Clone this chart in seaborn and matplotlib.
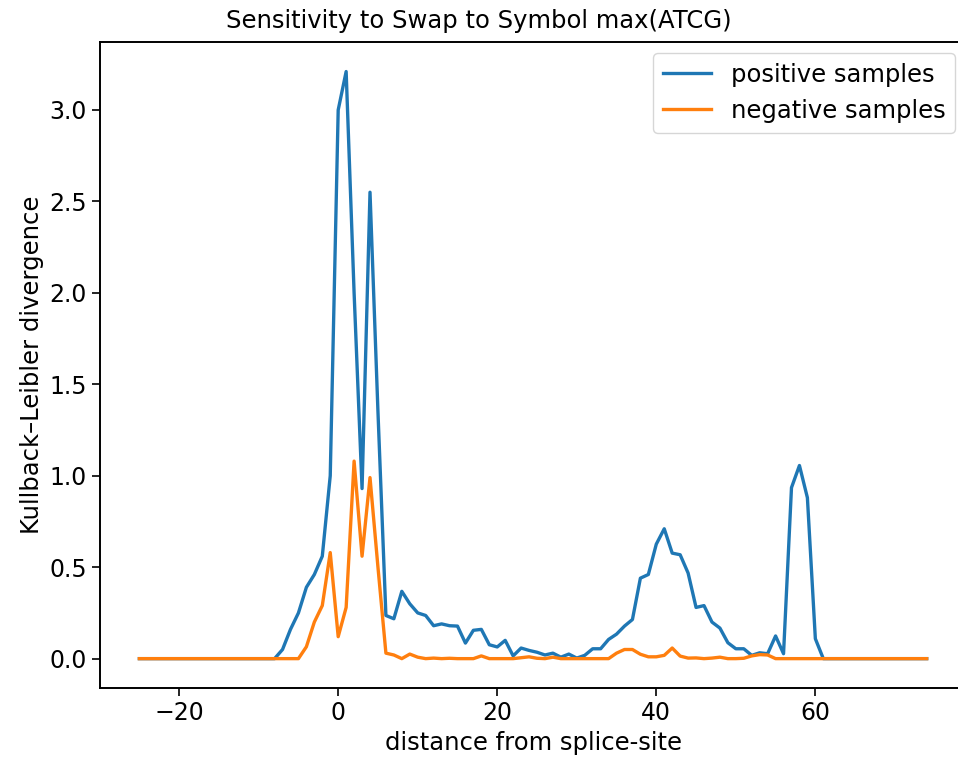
import numpy as np
import pandas as pd
import matplotlib
matplotlib.use("Agg")
import matplotlib.pyplot as plt
import seaborn as sns

# distance from splice-site (one value per position)
distance = list(range(-25, 75))

# KL divergence, positive samples
positive = [
    0.0, 0.0, 0.0, 0.0, 0.0, 0.0, 0.0, 0.0, 0.0, 0.0,
    0.0, 0.0, 0.0, 0.0, 0.0, 0.0, 0.0,
    0.0, 0.05, 0.16, 0.25, 0.39, 0.46, 0.56, 1.0,
    3.0, 3.21, 2.0, 0.93, 2.55, 1.35, 0.236, 0.218, 0.368, 0.30,
    0.25, 0.236, 0.18, 0.19, 0.18, 0.178, 0.085, 0.155, 0.16, 0.076,
    0.064, 0.10, 0.015, 0.058, 0.045, 0.035, 0.02, 0.03, 0.008, 0.025,
    0.003, 0.018, 0.054, 0.054, 0.105, 0.134, 0.178, 0.214, 0.44, 0.46,
    0.626, 0.71, 0.577, 0.568, 0.468, 0.28, 0.29, 0.20, 0.167, 0.087,
    0.054, 0.054, 0.018, 0.032, 0.027, 0.124, 0.027, 0.935, 1.056, 0.88,
    0.109, 0.0,
    0.0, 0.0, 0.0, 0.0, 0.0, 0.0, 0.0, 0.0, 0.0, 0.0, 0.0, 0.0, 0.0,
]

# KL divergence, negative samples
negative = [
    0.0, 0.0, 0.0, 0.0, 0.0, 0.0, 0.0, 0.0, 0.0, 0.0,
    0.0, 0.0, 0.0, 0.0, 0.0, 0.0, 0.0, 0.0, 0.0, 0.0,
    0.0, 0.065, 0.2, 0.29, 0.58, 0.12, 0.28, 1.08, 0.56, 0.99,
    0.5, 0.03, 0.02, 0.0, 0.025, 0.008, 0.0, 0.003, 0.0, 0.002,
    0.0, 0.0, 0.0, 0.015, 0.0, 0.0, 0.0, 0.0, 0.005, 0.01,
    0.002, 0.0, 0.008, 0.0, 0.0, 0.0, 0.0, 0.0, 0.0, 0.0,
    0.03, 0.05, 0.05, 0.024, 0.01, 0.01, 0.018, 0.058, 0.014, 0.003,
    0.004, 0.0, 0.003, 0.008, 0.0, 0.0, 0.002, 0.015, 0.022, 0.02,
    0.0,
    0.0, 0.0, 0.0, 0.0, 0.0, 0.0, 0.0, 0.0, 0.0, 0.0,
    0.0, 0.0, 0.0, 0.0, 0.0, 0.0, 0.0, 0.0, 0.0,
]

labels = ["positive samples", "negative samples"]

df = pd.concat([
    pd.DataFrame({"distance": distance, "kl": positive, "set": labels[0]}),
    pd.DataFrame({"distance": distance, "kl": negative, "set": labels[1]}),
])

plt.rcParams["font.family"] = ["DejaVu Sans"]
plt.rcParams["font.size"] = 17

fig = plt.figure(figsize=(9.58, 7.67), dpi=100)
# the right spine falls just outside the saved image, as in the original
ax = fig.add_axes([0.1044, 0.103, 0.904, 0.842])

sns.lineplot(data=df, x="distance", y="kl", hue="set", hue_order=labels,
             palette=["#1f77b4", "#ff7f0e"], linewidth=2.4, ax=ax)

fig.suptitle("Sensitivity to Swap to Symbol max(ATCG)", fontsize=17.5,
             x=0.5, y=0.988, va="top")
ax.set_xlabel("distance from splice-site", fontsize=17.5)
ax.set_ylabel("Kullback\u2013Leibler divergence", fontsize=17.5)
ax.set_xticks([-20, 0, 20, 40, 60])
ax.set_yticks([0.0, 0.5, 1.0, 1.5, 2.0, 2.5, 3.0])
ax.set_yticklabels(["0.0", "0.5", "1.0", "1.5", "2.0", "2.5", "3.0"])
ax.tick_params(labelsize=17, length=6, width=1.2)
ax.legend(title=None, loc="upper right", fontsize=17.5, borderaxespad=0.45)
for s in ax.spines.values():
    s.set_linewidth(1.4)

fig.savefig("out.png", dpi=100)
